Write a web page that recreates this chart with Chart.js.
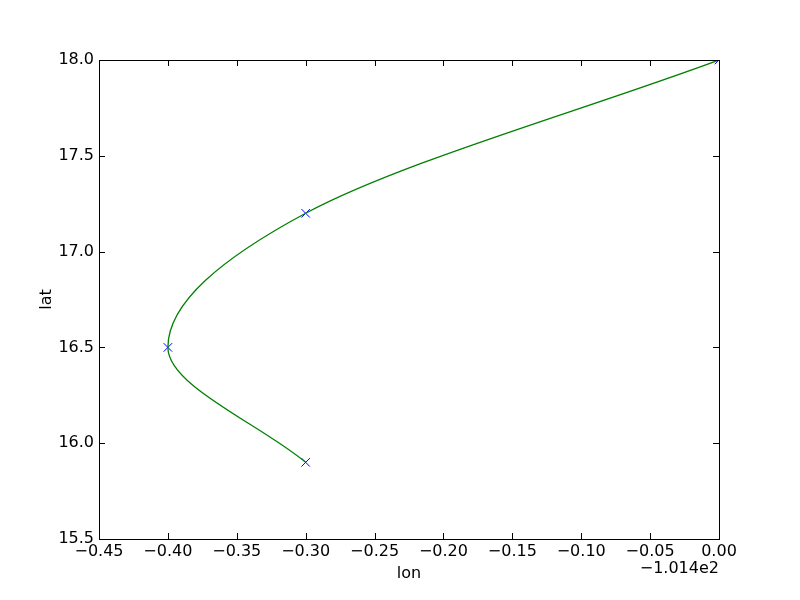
<!DOCTYPE html>
<html lang="en">
<head>
    <meta charset="UTF-8">
    <title>lat / lon</title>
    <script src="https://cdn.jsdelivr.net/npm/chart.js"></script>
    <style>
        html, body { margin: 0; padding: 0; background: #fff; }
        #wrap { width: 800px; height: 600px; }
    </style>
</head>
<body>
    <div id="wrap"><canvas id="track"></canvas></div>
    <script>
// lon is shown as offset from lonBase (matplotlib style offset)
const lonBase = -101.4;
const lonOffset = [0.0, -0.3, -0.4, -0.3];
const lat = [18.0, 17.2, 16.5, 15.9];
const xTicks = [-0.45, -0.40, -0.35, -0.30, -0.25, -0.20, -0.15, -0.10, -0.05, 0.00];
const yTicks = [15.5, 16.0, 16.5, 17.0, 17.5, 18.0];

const FONT = "'DejaVu Sans', sans-serif";
const minus = s => s.replace("-", "\u2212");

const points = lonOffset.map((x, i) => ({ x: x, y: lat[i] }));

// inward ticks on all four sides + frame + offset text
const mplFrame = {
    id: "mplFrame",
    afterDraw(chart) {
        const c = chart.ctx, a = chart.chartArea;
        const xs = chart.scales.x, ys = chart.scales.y;
        const len = 6;
        c.save();
        c.strokeStyle = "#000";
        c.lineWidth = 1;
        c.beginPath();
        xTicks.forEach(v => {
            const px = Math.round(xs.getPixelForValue(v)) + 0.5;
            c.moveTo(px, a.bottom); c.lineTo(px, a.bottom - len);
            c.moveTo(px, a.top); c.lineTo(px, a.top + len);
        });
        yTicks.forEach(v => {
            const py = Math.round(ys.getPixelForValue(v)) + 0.5;
            c.moveTo(a.left, py); c.lineTo(a.left + len, py);
            c.moveTo(a.right, py); c.lineTo(a.right - len, py);
        });
        c.stroke();
        c.strokeRect(Math.round(a.left) + 0.5, Math.round(a.top) + 0.5,
                     Math.round(a.right - a.left), Math.round(a.bottom - a.top));
        c.fillStyle = "#000";
        c.font = "16px " + FONT;
        c.textAlign = "right";
        c.textBaseline = "middle";
        c.fillText(minus((lonBase / 100).toFixed(3) + "e2"), a.right, 569);
        c.restore();
    }
};

new Chart(document.getElementById("track"), {
    type: "scatter",
    data: {
        datasets: [{
            data: points,
            showLine: true,
            indexAxis: "y",
            cubicInterpolationMode: "monotone",
            borderColor: "#008000",
            borderWidth: 1.3,
            pointRadius: 0,
            fill: false
        }, {
            data: points,
            showLine: false,
            pointStyle: "crossRot",
            pointRadius: 6,
            borderColor: "#0000ff",
            borderWidth: 1,
            backgroundColor: "#0000ff"
        }]
    },
    options: {
        responsive: true,
        maintainAspectRatio: false,
        animation: false,
        layout: { padding: { left: 37, top: 60, right: 81, bottom: 15 } },
        plugins: {
            legend: { display: false },
            tooltip: { enabled: false }
        },
        scales: {
            x: {
                type: "linear",
                position: "bottom",
                min: -0.45,
                max: 0,
                afterBuildTicks: s => { s.ticks = xTicks.map(v => ({ value: v })); },
                afterFit: s => { s.height = 46; },
                grid: { display: false, drawTicks: false },
                border: { display: true, color: "#000" },
                ticks: {
                    color: "#000",
                    font: { family: FONT, size: 16 },
                    padding: 3,
                    maxRotation: 0,
                    autoSkip: false,
                    callback: v => minus(v.toFixed(2))
                },
                title: {
                    display: true,
                    text: "lon",
                    color: "#000",
                    font: { family: FONT, size: 16 },
                    padding: { top: 0, bottom: 2 }
                }
            },
            y: {
                type: "linear",
                position: "left",
                min: 15.5,
                max: 18,
                afterBuildTicks: s => { s.ticks = yTicks.map(v => ({ value: v })); },
                afterFit: s => { s.width = 62; },
                grid: { display: false, drawTicks: false },
                border: { display: true, color: "#000" },
                ticks: {
                    color: "#000",
                    font: { family: FONT, size: 16 },
                    padding: 5,
                    autoSkip: false,
                    callback: v => v.toFixed(1)
                },
                title: {
                    display: true,
                    text: "lat",
                    color: "#000",
                    font: { family: FONT, size: 16 },
                    padding: 0
                }
            }
        }
    },
    plugins: [mplFrame]
});
    </script>
</body>
</html>
